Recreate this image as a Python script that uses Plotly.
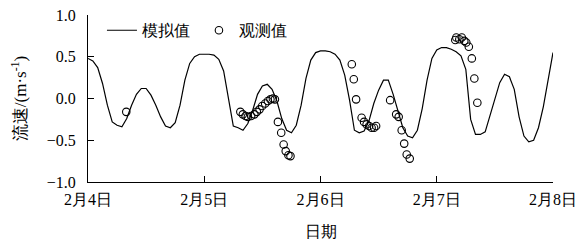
import plotly.graph_objects as go

# simulated hourly series, hours since 2月4日 00:00
sim_hours = list(range(0, 97))
sim_values = [0.48, 0.45, 0.37, 0.18, -0.08, -0.28, -0.32, -0.34, -0.24, -0.08, 0.05, 0.12, 0.12, 0.04, -0.08, -0.22, -0.33, -0.35, -0.29, -0.08, 0.22, 0.42, 0.50, 0.53,
              0.53, 0.53, 0.52, 0.47, 0.33, -0.02, -0.33, -0.35, -0.38, -0.30, -0.14, 0.05, 0.15, 0.17, 0.11, -0.03, -0.24, -0.38, -0.41, -0.32, -0.08, 0.24, 0.46, 0.55,
              0.57, 0.57, 0.56, 0.53, 0.46, 0.28, -0.02, -0.38, -0.41, -0.39, -0.27, -0.06, 0.10, 0.22, 0.22, 0.05, -0.14, -0.35, -0.45, -0.47, -0.38, -0.12, 0.22, 0.48,
              0.58, 0.61, 0.61, 0.59, 0.56, 0.51, 0.35, -0.25, -0.43, -0.43, -0.40, -0.20, 0.00, 0.19, 0.29, 0.26, 0.11, -0.22, -0.45, -0.52, -0.50, -0.35, -0.10, 0.22, 0.55]

# observations
obs_hours = [7.9,
             31.45, 31.97, 32.53, 33.0, 33.68, 34.35, 34.86, 35.42, 35.96, 36.58, 37.14, 37.66, 38.17, 38.59,
             39.21, 39.89, 40.39, 40.82, 41.38, 41.80,
             54.46, 54.87, 55.35, 56.49, 57.0, 57.52, 58.04, 58.55, 59.07, 59.48,
             62.38, 63.62, 64.14, 64.76, 65.28, 65.8, 66.42,
             75.83, 76.04, 76.66, 77.17, 77.69, 78.1, 78.62, 79.24, 79.76, 80.38]
obs_values = [-0.16,
              -0.16, -0.19, -0.21, -0.22, -0.21, -0.19, -0.16, -0.13, -0.09, -0.06, -0.03, -0.01, 0.00, -0.01,
              -0.28, -0.41, -0.55, -0.63, -0.68, -0.69,
              0.41, 0.23, -0.01, -0.23, -0.28, -0.31, -0.33, -0.35, -0.35, -0.33,
              -0.02, -0.19, -0.22, -0.38, -0.54, -0.67, -0.72,
              0.70, 0.73, 0.71, 0.73, 0.69, 0.67, 0.62, 0.48, 0.24, -0.05]

tick_vals = [0, 24, 48, 72, 96]
tick_text = ["2月4日", "2月5日", "2月6日", "2月7日", "2月8日"]
y_ticks = [-1.0, -0.5, 0.0, 0.5, 1.0]
y_tick_text = ["\u22121.0", "\u22120.5", "0.0", "0.5", "1.0"]

FONT = "Liberation Serif, serif"

fig = go.Figure()
fig.add_trace(go.Scatter(x=sim_hours, y=sim_values, mode="lines", name="模拟值\u00a0",
                         line=dict(color="black", width=1.2)))
fig.add_trace(go.Scatter(x=obs_hours, y=obs_values, mode="markers", name="观测值",
                         marker=dict(symbol="circle-open", size=7.5, color="black",
                                     line=dict(width=1.1, color="black"))))

# page has ~8px body margin, so the figure is sized to fit the window
fig.update_layout(
    width=578, height=233,
    margin=dict(l=80, r=33, t=7, b=59, autoexpand=False),
    paper_bgcolor="white", plot_bgcolor="white",
    font=dict(family=FONT, size=15, color="black"),
    showlegend=True,
    legend=dict(orientation="h", x=0.03, y=1.01, xanchor="left", yanchor="top",
                bgcolor="rgba(0,0,0,0)", font=dict(size=16), itemwidth=30,
                traceorder="normal"),
    xaxis=dict(range=[0, 96], tickvals=tick_vals, ticktext=tick_text, automargin=False,
               showline=True, linecolor="black", linewidth=1.2, mirror=False,
               ticks="inside", ticklen=6, tickcolor="black", showgrid=False, zeroline=False,
               tickfont=dict(size=16), ticklabelstandoff=3, ticklabeloverflow="allow",
               title=dict(text="日期", font=dict(size=16), standoff=18)),
    yaxis=dict(range=[-1, 1], tickvals=y_ticks, ticktext=y_tick_text, automargin=False,
               showline=True, linecolor="black", linewidth=1.2, mirror=False,
               ticks="inside", ticklen=6, tickcolor="black", showgrid=False, zeroline=False,
               tickfont=dict(size=16), ticklabelstandoff=8, ticklabeloverflow="allow",
               title=dict(text="流速/(m·s<sup>-1</sup>)", font=dict(size=17), standoff=15)),
)

fig.write_html("out.html")
